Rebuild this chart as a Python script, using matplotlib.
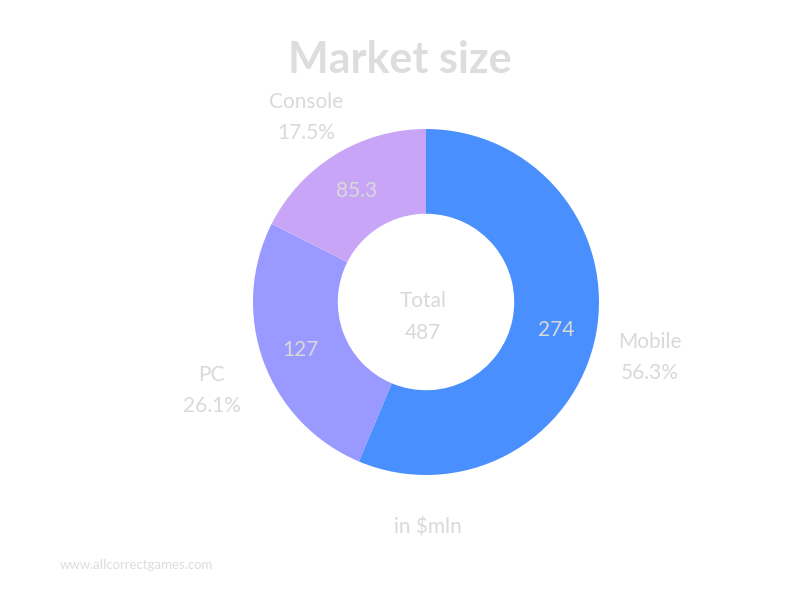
import numpy as np
import matplotlib.pyplot as plt

categories = ['Mobile', 'PC', 'Console']
values = [274, 127, 85.3]
value_labels = ['274', '127', '85.3']
shares = ['56.3%', '26.1%', '17.5%']
total_label = '487'
colors = ['#4a8ffe', '#9999ff', '#c8a5f7']

txt = '#d9d9d9'
plt.rcParams['font.family'] = ['Lato', 'DejaVu Sans']

fig = plt.figure(figsize=(8, 6), dpi=100)
ax = fig.add_axes([0, 0, 1, 1])

cx, cy, r = 426, 298, 173
wedges, _ = ax.pie(values, colors=colors, startangle=90, counterclock=False,
                   center=(cx, cy), radius=r, frame=True,
                   wedgeprops=dict(width=r * 0.49, linewidth=0))
ax.set_xlim(0, 800)
ax.set_ylim(0, 600)
ax.set_aspect('equal')
ax.axis('off')

for w, name, vl, sh in zip(wedges, categories, value_labels, shares):
    a = np.deg2rad((w.theta1 + w.theta2) / 2)
    ax.text(cx + 0.77 * r * np.cos(a), cy + 0.77 * r * np.sin(a) - 2, vl,
            ha='center', va='center', fontsize=15, color=txt)
    ax.text(cx + 1.32 * r * np.cos(a), cy + 1.32 * r * np.sin(a) - 10, name + '\n' + sh,
            ha='center', va='center', fontsize=15, color=txt, linespacing=1.7)

ax.text(cx - 3, cy - 15, 'Total\n' + total_label, ha='center', va='center',
        fontsize=15, color=txt, linespacing=1.7)
ax.text(400, 540, 'Market size', ha='center', va='center', fontsize=31,
        fontweight='bold', color='#dddddd')
ax.text(428, 73, 'in $mln', ha='center', va='center', fontsize=15, color=txt)
ax.text(60, 35, 'www.allcorrectgames.com', ha='left', va='center', fontsize=9.5,
        color='#dddddd')

fig.savefig('out.png', dpi=100)
